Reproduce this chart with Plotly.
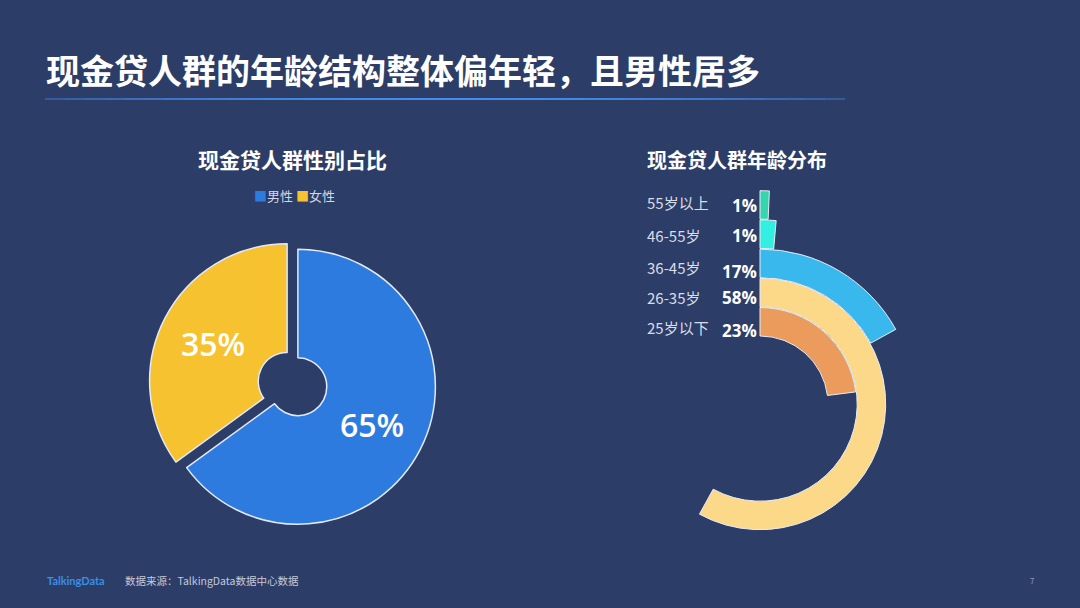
import math
import plotly.graph_objects as go

# ---------------- data ----------------
title_text = "现金贷人群的年龄结构整体偏年轻，且男性居多"
left_title = "现金贷人群性别占比"
right_title = "现金贷人群年龄分布"

gender_labels = ["男性", "女性"]
gender_values = [65, 35]
gender_colors = ["#2e7be0", "#f7c230"]

age_groups = ["55岁以上", "46-55岁", "36-45岁", "26-35岁", "25岁以下"]
age_values = [0.7, 1.4, 17, 58, 23]          # percent (drawn arc length)
age_colors = ["#35d6ae", "#33efe2", "#38b8ec", "#fbd988", "#eb9c5c"]

source_text = "数据来源：TalkingData数据中心数据"
brand_text = "TalkingData"
page_no = "7"

# ---------------- style ----------------
W, H = 1080, 608
BG = "#2c3d68"
FONT = "Noto Sans CJK SC"

def py(ypx):
    return 1 - ypx / H

def px(xpx):
    return xpx / W

fig = go.Figure()

# ---- pie (gender) ----
pie_cx, pie_cy, pie_r, pull = 292.5, 384, 137.5, 0.044
half = pie_r * (1 + pull)
fig.add_trace(go.Pie(
    labels=gender_labels, values=gender_values,
    hole=0.21, sort=False, direction="clockwise", rotation=0,
    pull=[pull, pull],
    marker=dict(colors=gender_colors, line=dict(color="#e3eaf5", width=1.5)),
    texttemplate="%{value}%", textposition="inside",
    insidetextorientation="horizontal",
    textfont=dict(family="Open Sans", size=32, color="white", weight=600),
    hoverinfo="label+percent",
    domain=dict(x=[px(pie_cx - half), px(pie_cx + half)],
                y=[py(pie_cy + half), py(pie_cy - half)]),
    showlegend=False,
))

# ---- radial bars (age) ----
pol_cx, pol_cy = 760, 404
ring_inner, ring_step, ring_thick = 68, 29.2, 28.5
n = len(age_groups)
bases = [ring_inner + (n - 1 - i) * ring_step for i in range(n)]
outer_idx = [0, 1]            # thin outer rings -> quadrant subplot (room above centre)
inner_idx = [2, 3, 4]

def ring_trace(idx, subplot):
    return go.Barpolar(
        r=[ring_thick for i in idx],
        base=[bases[i] for i in idx],
        theta=[age_values[i] * 3.6 / 2 for i in idx],
        width=[age_values[i] * 3.6 for i in idx],
        marker=dict(color=[age_colors[i] for i in idx], line=dict(color="#e6ecf7", width=1)),
        customdata=[age_groups[i] for i in idx],
        hovertemplate="%{customdata}<extra></extra>",
        showlegend=False, subplot=subplot,
    )

fig.add_trace(ring_trace(inner_idx, "polar"))
fig.add_trace(ring_trace(outer_idx, "polar2"))

RA = 160                       # full-circle subplot radius (px == data units)
RB = 218                       # quadrant subplot radius
sec = [0, 92]
bx0 = math.cos(math.radians(sec[1]))   # negative little overhang left of centre

axis_off = dict(rotation=90, direction="clockwise", visible=False,
                showgrid=False, showline=False, showticklabels=False)
fig.update_layout(
    width=W, height=H,
    paper_bgcolor=BG, plot_bgcolor=BG,
    margin=dict(l=0, r=0, t=0, b=0),
    font=dict(family=FONT, color="white"),
    polar=dict(
        domain=dict(x=[px(pol_cx - RA), px(pol_cx + RA)], y=[py(pol_cy + RA), py(pol_cy - RA)]),
        bgcolor="rgba(0,0,0,0)",
        radialaxis=dict(range=[0, RA], visible=False, showgrid=False),
        angularaxis=axis_off,
    ),
    polar2=dict(
        sector=sec,
        domain=dict(x=[px(pol_cx + RB * bx0), px(pol_cx + RB)], y=[py(pol_cy), py(pol_cy - RB)]),
        bgcolor="rgba(0,0,0,0)",
        radialaxis=dict(range=[0, RB], visible=False, showgrid=False),
        angularaxis=axis_off,
    ),
    showlegend=False,
)

ann = []
# main title
ann.append(dict(text=f"<b>{title_text}</b>", x=px(44), y=py(70), xanchor="left", yanchor="middle",
                showarrow=False, font=dict(size=34, color="white", family=FONT)))
# sub titles
ann.append(dict(text=f"<b>{left_title}</b>", x=px(292), y=py(159), xanchor="center", yanchor="middle",
                showarrow=False, font=dict(size=21, color="white", family=FONT)))
ann.append(dict(text=f"<b>{right_title}</b>", x=px(737), y=py(159), xanchor="center", yanchor="middle",
                showarrow=False, font=dict(size=20, color="white", family=FONT)))
# compact legend for the pie
legend_html = " ".join(
    f"<span style='color:{c}'>■</span>{l}" for l, c in zip(gender_labels, gender_colors))
ann.append(dict(text=legend_html, x=px(294), y=py(195), xanchor="center", yanchor="middle",
                showarrow=False, font=dict(size=13, color="#d3d9e6", family=FONT)))
# age labels
lab_y = [203, 235, 267, 297, 327]
pct_y = [205, 236, 271, 298, 330]
for i, g in enumerate(age_groups):
    ann.append(dict(text=g, x=px(645), y=py(lab_y[i]), xanchor="left", yanchor="middle",
                    showarrow=False, font=dict(size=15, color="#d8dde9", family=FONT)))
    ann.append(dict(text=f"<b>{round(age_values[i])}%</b>", x=px(759), y=py(pct_y[i]),
                    xanchor="right", yanchor="middle", showarrow=False,
                    font=dict(size=17, color="white", family="Open Sans")))
# footer
ann.append(dict(text=f"<b>{brand_text}</b>", x=px(45), y=py(580), xanchor="left", yanchor="middle",
                showarrow=False, font=dict(size=11, color="#3a8ee6", family="Lato")))
ann.append(dict(text=source_text, x=px(123), y=py(580), xanchor="left", yanchor="middle",
                showarrow=False, font=dict(size=10.5, color="#c3cadb", family=FONT)))
ann.append(dict(text=page_no, x=px(1032), y=py(580), xanchor="center", yanchor="middle",
                showarrow=False, font=dict(size=8, color="#8f9bb8", family=FONT)))
fig.update_layout(annotations=ann)

# title underline with glow-like gradient
shapes = []
x0, x1, ly = 45, 845, 99
nseg = 40
for k in range(nseg):
    t = (k + 0.5) / nseg
    a = 0.35 + 0.65 * math.sin(math.pi * t) ** 0.8
    shapes.append(dict(type="line", xref="paper", yref="paper",
                       x0=px(x0 + (x1 - x0) * k / nseg), x1=px(x0 + (x1 - x0) * (k + 1) / nseg),
                       y0=py(ly), y1=py(ly),
                       line=dict(color=f"rgba(70,140,235,{a:.2f})", width=2)))
fig.update_layout(shapes=shapes)

fig.write_html("out.html", config={"displayModeBar": False},
               post_script="document.body.style.margin='0';document.body.style.background='" + BG + "';")
